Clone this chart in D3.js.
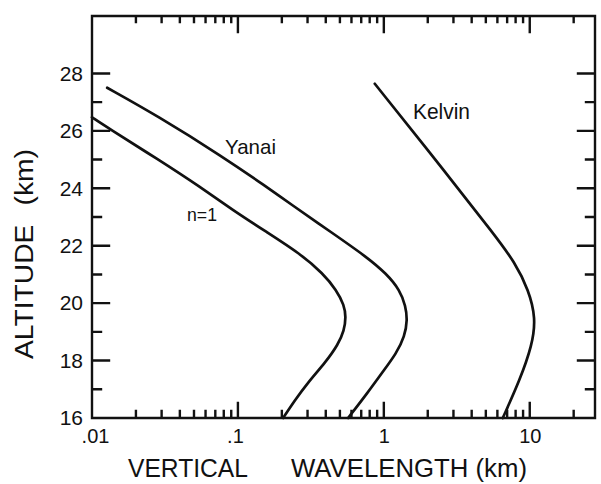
<!DOCTYPE html>
<html>
<head>
<meta charset="utf-8">
<script src="https://cdn.jsdelivr.net/npm/d3@7"></script>
<style>
  body { margin: 0; background: #fff; }
  svg { display: block; }
  text { font-family: "Liberation Sans", Arial, sans-serif; fill: #111; }
</style>
</head>
<body>
<svg id="chart" width="601" height="484"></svg>
<script>
// ---- data ----
const n1Wavelength    = [0.01, 0.0126, 0.0285, 0.055, 0.0929, 0.157, 0.266, 0.384, 0.474, 0.535, 0.550, 0.535, 0.485, 0.400, 0.300, 0.246, 0.204];
const n1Altitude      = [26.47, 26.13, 25.00, 24.05, 23.23, 22.48, 21.73, 21.03, 20.45, 19.93, 19.52, 19.05, 18.55, 17.95, 17.22, 16.62, 16.0];

const yanaiWavelength = [0.0127, 0.0277, 0.0793, 0.157, 0.227, 0.450, 0.762, 1.04, 1.29, 1.41, 1.45, 1.39, 1.22, 0.98, 0.78, 0.569];
const yanaiAltitude   = [27.50, 26.54, 25.09, 24.05, 23.47, 22.42, 21.61, 21.03, 20.45, 19.90, 19.41, 18.85, 18.25, 17.60, 16.90, 16.0];

const kelvinWavelength = [0.867, 2.69, 5.75, 7.89, 9.84, 11.0, 10.4, 8.55, 6.53];
const kelvinAltitude   = [27.64, 24.51, 22.37, 21.43, 20.45, 19.48, 18.54, 17.32, 16.0];

const xMajorTicks = [0.01, 0.1, 1, 10];
const xTickLabels = [".01", ".1", "1", "10"];
const xMinorTicks = [0.02,0.03,0.04,0.05,0.06,0.07,0.08,0.09,
                     0.2,0.3,0.4,0.5,0.6,0.7,0.8,0.9,
                     2,3,4,5,6,7,8,9,20];
const yMajorTicks = [16, 18, 20, 22, 24, 26, 28];
const yMinorTicks = [17, 19, 21, 23, 25, 27];

const seriesLabels = ["n=1", "Yanai", "Kelvin"];

// ---- layout ----
const svg = d3.select("#chart");
const mLeft = 92, mRight = 595, mTop = 16, mBottom = 418;

const x = d3.scaleLog().domain([0.01, 28]).range([mLeft, mRight]);
const y = d3.scaleLinear().domain([16, 30]).range([mBottom, mTop]);

const ink = "#111";

// tick labels via d3 axes (tick marks drawn separately below)
svg.append("g").attr("transform", `translate(${mLeft},0)`)
  .call(d3.axisLeft(y).tickValues(yMajorTicks).tickSize(0).tickPadding(9).tickFormat(d3.format("d")))
  .call(g => g.select(".domain").remove())
  .call(g => g.selectAll(".tick text").attr("font-size", 21).attr("fill", ink)
      .attr("font-family", "Liberation Sans, Arial, sans-serif"));

svg.append("g").attr("transform", `translate(0,${mBottom})`)
  .call(d3.axisBottom(x).tickValues(xMajorTicks).tickSize(0).tickPadding(11)
        .tickFormat((d, i) => xTickLabels[i]))
  .call(g => g.select(".domain").remove())
  .call(g => g.selectAll(".tick text").attr("font-size", 20).attr("fill", ink)
      .attr("font-family", "Liberation Sans, Arial, sans-serif")
      .attr("dx", (d, i) => i === 1 ? -3 : (i === 0 ? 3 : 0)));

// frame + inward tick marks, built as one path from the scales
const p = d3.path();
p.rect(mLeft, mTop, mRight - mLeft, mBottom - mTop);
function yTicks(vals, len) {
  vals.forEach(v => {
    p.moveTo(mLeft, y(v));  p.lineTo(mLeft + len, y(v));
    p.moveTo(mRight, y(v)); p.lineTo(mRight - len, y(v));
  });
}
function xTicks(vals, lenBottom, lenTop) {
  vals.forEach(v => {
    p.moveTo(x(v), mBottom); p.lineTo(x(v), mBottom - lenBottom);
    p.moveTo(x(v), mTop);    p.lineTo(x(v), mTop + lenTop);
  });
}
yTicks(yMajorTicks, 17);
yTicks(yMinorTicks, 9);
xTicks(xMajorTicks, 15, 16);
xTicks(xMinorTicks, 7, 6);

svg.append("path")
  .attr("d", p.toString())
  .attr("style", `fill:none;stroke:${ink};stroke-width:2.4px;stroke-linecap:square`);

// curves
const line = d3.line()
  .x(d => x(d[0])).y(d => y(d[1]))
  .curve(d3.curveBasis);

const series = [
  d3.zip(n1Wavelength, n1Altitude),
  d3.zip(yanaiWavelength, yanaiAltitude),
  d3.zip(kelvinWavelength, kelvinAltitude)
];
svg.append("g").selectAll("path").data(series).join("path")
  .attr("d", line)
  .attr("style", `fill:none;stroke:${ink};stroke-width:2.7px;stroke-linejoin:round;stroke-linecap:round`);

// curve labels
svg.append("text").attr("x", 187).attr("y", 221).attr("font-size", 18)
  .attr("textLength", 30).attr("lengthAdjust", "spacingAndGlyphs").text(seriesLabels[0]);
svg.append("text").attr("x", 225).attr("y", 154).attr("font-size", 21)
  .attr("textLength", 51).attr("lengthAdjust", "spacingAndGlyphs").text(seriesLabels[1]);
svg.append("text").attr("x", 413).attr("y", 119).attr("font-size", 22)
  .attr("textLength", 57).attr("lengthAdjust", "spacingAndGlyphs").text(seriesLabels[2]);

// axis titles
svg.append("text").attr("x", 128).attr("y", 477).attr("font-size", 25)
  .attr("textLength", 120).attr("lengthAdjust", "spacingAndGlyphs").text("VERTICAL");
svg.append("text").attr("x", 291).attr("y", 477).attr("font-size", 25)
  .attr("textLength", 236).attr("lengthAdjust", "spacingAndGlyphs").text("WAVELENGTH (km)");

svg.append("text")
  .attr("transform", "translate(33,254) rotate(-90)")
  .attr("text-anchor", "middle").attr("font-size", 25)
  .attr("textLength", 210).attr("lengthAdjust", "spacingAndGlyphs")
  .attr("word-spacing", 10)
  .text("ALTITUDE (km)");
</script>
</body>
</html>
